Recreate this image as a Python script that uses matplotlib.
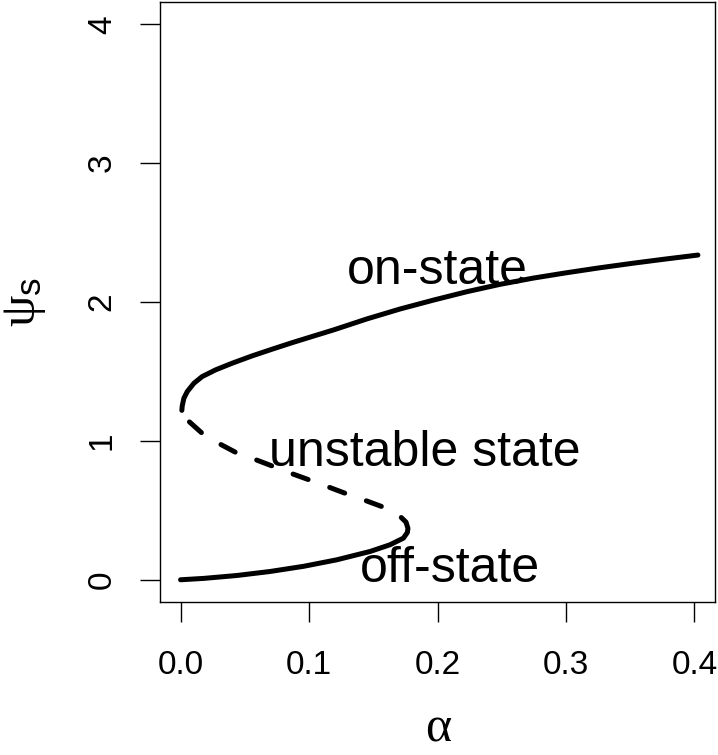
import numpy as np
import matplotlib
matplotlib.use("Agg")
import matplotlib.pyplot as plt

# values
on_alpha = [0.0010, 0.0013, 0.0026, 0.0052, 0.0104, 0.0168, 0.0272, 0.0401, 0.0557, 0.0712,
            0.0868, 0.1036, 0.1191, 0.145, 0.171, 0.197, 0.2228, 0.2486, 0.2745, 0.300,
            0.326, 0.352, 0.378, 0.4027]
on_psi = [1.22, 1.252, 1.307, 1.355, 1.415, 1.463, 1.511, 1.559, 1.612, 1.660,
          1.707, 1.755, 1.799, 1.878, 1.950, 2.014, 2.074, 2.127, 2.172, 2.210,
          2.246, 2.279, 2.310, 2.338]

unst_alpha = [0.0010, 0.0052, 0.0168, 0.0285, 0.044, 0.057, 0.0725, 0.0855, 0.0984, 0.114,
              0.1295, 0.1424, 0.1567, 0.1696, 0.1755, 0.1770, 0.1765]
unst_psi = [1.22, 1.151, 1.055, 0.988, 0.912, 0.870, 0.815, 0.768, 0.725, 0.672,
            0.618, 0.576, 0.527, 0.468, 0.415, 0.370, 0.340]

off_alpha = [0.1765, 0.1735, 0.163, 0.1476, 0.1217, 0.0958, 0.0699, 0.044, 0.0181, 0.0]
off_psi = [0.340, 0.300, 0.252, 0.204, 0.144, 0.097, 0.060, 0.031, 0.010, 0.0]

xticks = [0.0, 0.1, 0.2, 0.3, 0.4]
xticklabels = ["0.0", "0.1", "0.2", "0.3", "0.4"]
yticks = [0, 1, 2, 3, 4]

labels = ["on-state", "unstable state", "off-state"]
label_pos = [(0.2, 2.26), (0.19, 0.95), (0.21, 0.11)]

plt.rcParams['font.family'] = ['Liberation Sans', 'DejaVu Sans']
plt.rcParams['mathtext.fontset'] = 'custom'
plt.rcParams['mathtext.rm'] = 'Liberation Serif'
plt.rcParams['mathtext.sf'] = 'Liberation Sans'
plt.rcParams['mathtext.default'] = 'rm'

fig = plt.figure(figsize=(7.18, 7.55), dpi=100)
ax = fig.add_axes([160 / 718, 153 / 755, 555 / 718, 600 / 755])

lw = 3.6
ax.plot(on_alpha, on_psi, color='black', lw=lw, solid_capstyle='round', solid_joinstyle='round')
ax.plot(unst_alpha, unst_psi, color='black', lw=lw, linestyle=(5.0, (3.2, 4.6)),
        dash_capstyle='round', dash_joinstyle='round')
ax.plot(off_alpha, off_psi, color='black', lw=lw, solid_capstyle='round', solid_joinstyle='round')

for txt, (x, y) in zip(labels, label_pos):
    ax.text(x, y, txt, fontsize=36, ha='center', va='center_baseline')

ax.set_xlim(-0.016, 0.416)
ax.set_ylim(-0.16, 4.16)
ax.set_xticks(xticks)
ax.set_xticklabels(xticklabels)
ax.set_yticks(yticks)
ax.set_yticklabels([str(v) for v in yticks], rotation=90, va='center')
ax.tick_params(length=14.4, width=1, labelsize=24)
ax.tick_params(axis='x', pad=20)
ax.tick_params(axis='y', pad=16)

for sp in ax.spines.values():
    sp.set_linewidth(1)

fig.text(438 / 718, 1 - 742 / 755, 'α', family='Liberation Serif', fontsize=36,
         ha='center', va='baseline')
fig.text(25 / 718, 1 - 302 / 755, r'$\psi_\mathsf{s}$', fontsize=36, ha='center', va='center',
         rotation=90)

fig.savefig("out.png", dpi=100)
